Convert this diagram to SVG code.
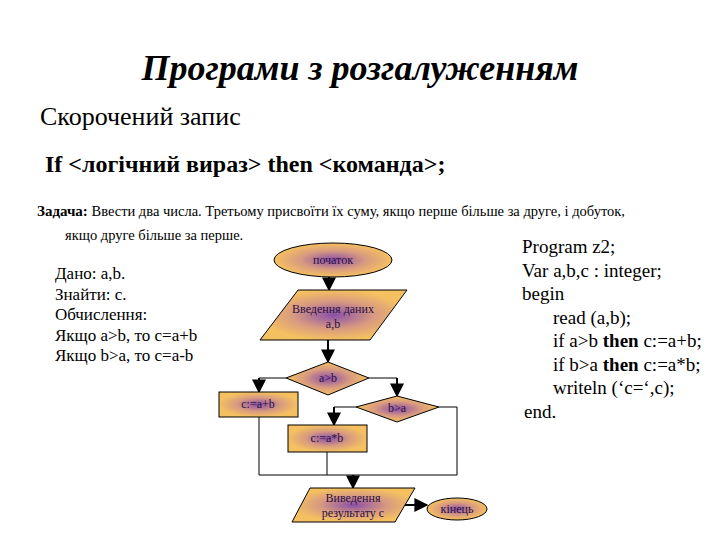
<svg xmlns="http://www.w3.org/2000/svg" width="720" height="540" viewBox="0 0 720 540">
<defs>
<radialGradient id="g" cx="50%" cy="50%" r="50%"><stop offset="0" stop-color="#8a4fa8"/><stop offset="0.55" stop-color="#d89a80"/><stop offset="1" stop-color="#f5c060"/></radialGradient>
<marker id="a" viewBox="0 0 10 10" refX="9" refY="5" markerWidth="7" markerHeight="7" orient="auto"><path d="M0,0L10,5L0,10z" fill="#000"/></marker>
</defs>
<style>
.s{fill:url(#g);stroke:#000;stroke-width:1}
.t{font-family:"Liberation Serif","DejaVu Serif",serif;font-size:12px;fill:#2a1040;text-anchor:middle}
.c{fill:none;stroke:#000;stroke-width:1}
.ar{fill:none;stroke:#000;stroke-width:2;marker-end:url(#a)}
.f{font-family:"Liberation Serif","DejaVu Serif",serif;fill:#000}
</style>
<rect width="720" height="540" fill="#fff"/>
<text x="360" y="80" class="f" font-size="36" font-style="italic" font-weight="bold" text-anchor="middle">Програми з розгалуженням</text>
<text x="40" y="125" class="f" font-size="26">Скорочений запис</text>
<text x="45" y="172" class="f" font-size="24" font-weight="bold">If &lt;логічний вираз&gt; then &lt;команда&gt;;</text>
<text x="37" y="216" class="f" font-size="14.5"><tspan font-weight="bold" font-size="15">Задача:</tspan>  Ввести два числа. Третьому присвоїти їх суму, якщо перше більше за друге, і добуток,</text>
<text x="65" y="240" class="f" font-size="14.5">якщо друге більше за перше.</text>
<g class="f" font-size="17">
<text x="55" y="279">Дано: a,b.</text>
<text x="55" y="300">Знайти: c.</text>
<text x="55" y="320">Обчислення:</text>
<text x="55" y="341">Якщо a&gt;b, то c=a+b</text>
<text x="55" y="361">Якщо b&gt;a, то c=a-b</text>
</g>
<g class="f" font-size="19">
<text x="522" y="253">Program z2;</text>
<text x="522" y="277">Var a,b,c : integer;</text>
<text x="522" y="300">begin</text>
<text x="553" y="324">read (a,b);</text>
<text x="553" y="347">if a&gt;b <tspan font-weight="bold">then</tspan> c:=a+b;</text>
<text x="553" y="371">if b&gt;a <tspan font-weight="bold">then</tspan> c:=a*b;</text>
<text x="553" y="394">writeln (‘c=‘,c);</text>
<text x="524" y="418">end.</text>
</g>
<g id="connectors">
<path class="ar" d="M329,277V290"/>
<path class="ar" d="M328,340V362"/>
<path class="c" d="M286,378H259"/><path class="ar" d="M259,378V392"/>
<path class="c" d="M369,378H397"/><path class="ar" d="M397,378V396"/>
<path class="c" d="M356,407H334"/><path class="ar" d="M334,407V425"/>
<path class="c" d="M439,407H457V475"/>
<path class="c" d="M259,417V475H457"/>
<path class="c" d="M327,452V475"/>
<path class="ar" d="M353,475V488"/>
<path class="ar" d="M404,505H427"/>
</g>
<g id="start"><ellipse class="s" cx="333" cy="260" rx="59" ry="17"/><text class="t" x="333" y="264">початок</text></g>
<g id="input"><polygon class="s" points="298,290 407,290 370,340 260,340"/><text class="t" x="333" y="313">Введення даних</text><text class="t" x="333" y="328">a,b</text></g>
<g id="d1"><polygon class="s" points="328,362 369,378 328,395 286,378"/><text class="t" x="328" y="382">a&gt;b</text></g>
<g id="p1"><rect class="s" x="219" y="392" width="79" height="25"/><text class="t" x="258" y="408">c:=a+b</text></g>
<g id="d2"><polygon class="s" points="397,396 439,407 397,422 356,407"/><text class="t" x="397" y="412">b&gt;a</text></g>
<g id="p2"><rect class="s" x="288" y="425" width="79" height="27"/><text class="t" x="327" y="442">c:=a*b</text></g>
<g id="output"><polygon class="s" points="310,488 415,488 395,522 292,522"/><text class="t" x="353" y="502">Виведення</text><text class="t" x="353" y="517">результату с</text></g>
<g id="end"><ellipse class="s" cx="457" cy="509" rx="30" ry="11"/><text class="t" x="457" y="513">кінець</text></g>
</svg>
